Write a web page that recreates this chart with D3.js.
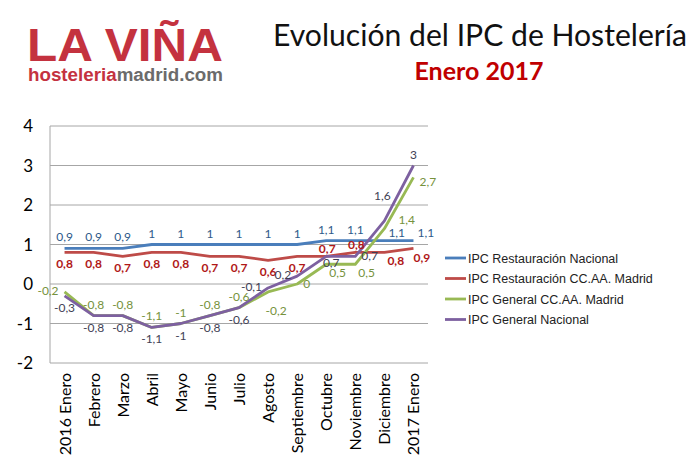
<!DOCTYPE html>
<html>
<head>
<meta charset="utf-8">
<script src="https://cdn.jsdelivr.net/npm/d3@7"></script>
<style>
  body { margin: 0; background: #fff; }
  svg { display: block; }
</style>
</head>
<body>
<svg id="chart" width="700" height="473"></svg>
<script>
// months on the x axis
const months = ['2016 Enero', 'Febrero', 'Marzo', 'Abril', 'Mayo', 'Junio', 'Julio',
  'Agosto', 'Septiembre', 'Octubre', 'Noviembre', 'Diciembre', '2017 Enero'];
const yTicks = [-2, -1, 0, 1, 2, 3, 4];

const seriesNames = ['IPC Restauración Nacional', 'IPC Restauración CC.AA. Madrid',
  'IPC General CC.AA. Madrid', 'IPC General Nacional'];

const restNacional = [0.9, 0.9, 0.9, 1, 1, 1, 1, 1, 1, 1.1, 1.1, 1.1, 1.1];
const restMadrid = [0.8, 0.8, 0.7, 0.8, 0.8, 0.7, 0.7, 0.6, 0.7, 0.7, 0.8, 0.8, 0.9];
const generalMadrid = [-0.2, -0.8, -0.8, -1.1, -1, -0.8, -0.6, -0.2, 0, 0.5, 0.5, 1.4, 2.7];
const generalNacional = [-0.3, -0.8, -0.8, -1.1, -1, -0.8, -0.6, -0.1, 0.2, 0.7, 0.7, 1.6, 3];

// where each value label sits relative to its point
const placeRestNacional = ['a', 'a', 'a', 'a', 'a', 'a', 'a', 'a', 'a', 'a', 'a', 'ar', 'ar'];
const placeRestMadrid = ['b', 'b', 'b', 'b', 'b', 'b', 'b', 'b', 'b', 'as', 'as', 'br', 'bd'];
const placeGenMadrid = ['l', 'a', 'a', 'a', 'a', 'a', 'a', 'bb', 'r', 'br', 'br', 'fr', 'rb'];
const placeGenNacional = ['b', 'b', 'b', 'b', 'b', 'b', 'b', 'l', 'l', 'bs', 'r', 'aa', 'a'];

const lineColors = ['#4A7EBB', '#BE4B48', '#98B954', '#7D60A0'];
const labelColors = ['#2E5A8A', '#B01818', '#76923C', '#3F3F55'];

const series = [
  { name: seriesNames[0], values: restNacional, place: placeRestNacional },
  { name: seriesNames[1], values: restMadrid, place: placeRestMadrid },
  { name: seriesNames[2], values: generalMadrid, place: placeGenMadrid },
  { name: seriesNames[3], values: generalNacional, place: placeGenNacional },
];

const svg = d3.select('#chart');
const plot = { left: 50, right: 428, top: 126, bottom: 363 };

const x = d3.scaleBand().domain(months).range([plot.left, plot.right]);
const y = d3.scaleLinear().domain([-2, 4]).range([plot.bottom, plot.top]);
const cx = (m) => x(m) + x.bandwidth() / 2;

// header
const logo = svg.append('g');
logo.append('text')
  .attr('x', 27).attr('y', 61)
  .attr('font-family', 'Liberation Sans, Arial, sans-serif')
  .attr('font-weight', 'bold').attr('font-size', 46)
  .attr('fill', '#C4323F')
  .attr('textLength', 196).attr('lengthAdjust', 'spacingAndGlyphs')
  .text('LA VIÑA');
const sub = logo.append('text')
  .attr('x', 28).attr('y', 81)
  .attr('font-family', 'Liberation Sans, Arial, sans-serif')
  .attr('font-weight', 'bold').attr('font-size', 17.5)
  .attr('textLength', 195).attr('lengthAdjust', 'spacingAndGlyphs');
sub.append('tspan').attr('fill', '#C4323F').text('hosteleria');
sub.append('tspan').attr('fill', '#6B6B6B').text('madrid.com');

svg.append('text')
  .attr('x', 480).attr('y', 46)
  .attr('text-anchor', 'middle')
  .attr('font-family', 'Lato, sans-serif')
  .attr('font-size', 31).attr('fill', '#111')
  .attr('textLength', 414).attr('lengthAdjust', 'spacingAndGlyphs')
  .text('Evolución del IPC de Hostelería');
svg.append('text')
  .attr('x', 479).attr('y', 80)
  .attr('text-anchor', 'middle')
  .attr('font-family', 'Lato, sans-serif')
  .attr('font-weight', 'bold')
  .attr('font-size', 25).attr('fill', '#C00000')
  .text('Enero 2017');

// gridlines
svg.append('g')
  .selectAll('line')
  .data(yTicks)
  .join('line')
  .attr('x1', plot.left).attr('x2', plot.right)
  .attr('y1', (d) => y(d)).attr('y2', (d) => y(d))
  .attr('stroke', '#A6A6A6').attr('stroke-width', 1);

svg.append('line')
  .attr('x1', plot.left).attr('x2', plot.left)
  .attr('y1', plot.top).attr('y2', plot.bottom)
  .attr('stroke', '#A6A6A6');

// y labels
svg.append('g')
  .selectAll('text')
  .data(yTicks)
  .join('text')
  .attr('x', 33).attr('y', (d) => y(d) + 6)
  .attr('text-anchor', 'end')
  .attr('font-family', 'Lato, sans-serif')
  .attr('font-size', 17).attr('fill', '#000')
  .text((d) => d);

// x labels (rotated)
svg.append('g')
  .selectAll('text')
  .data(months)
  .join('text')
  .attr('transform', (d) => `translate(${cx(d) + 6}, 373) rotate(-90)`)
  .attr('text-anchor', 'end')
  .attr('font-family', 'Lato, sans-serif')
  .attr('font-size', 16).attr('fill', '#000')
  .text((d) => d);

// lines
const line = d3.line()
  .x((d, i) => cx(months[i]))
  .y((d) => y(d));

svg.append('g')
  .selectAll('path')
  .data(series)
  .join('path')
  .attr('d', (s) => line(s.values))
  .attr('fill', 'none')
  .attr('stroke', (s, i) => lineColors[i])
  .attr('stroke-width', 2.8)
  .attr('stroke-linejoin', 'round');

// value labels: [dx, dy, anchor]
const offsets = {
  a: [0, -7, 'middle'],
  as: [1, -3, 'middle'],
  aa: [-2, -21, 'middle'],
  b: [0, 16, 'middle'],
  bs: [5, 11, 'middle'],
  bb: [8, 23, 'middle'],
  bd: [0, 14, 'start'],
  l: [-6, 3, 'end'],
  r: [6, 4, 'start'],
  ar: [4, -4, 'start'],
  fr: [14, -5, 'start'],
  rb: [6, 9, 'start'],
  br: [3, 13, 'start'],
};
const fmt = (v) => String(v).replace('.', ',');

series.forEach((s, si) => {
  svg.append('g')
    .selectAll('text')
    .data(s.values)
    .join('text')
    .attr('x', (d, i) => cx(months[i]) + offsets[s.place[i]][0])
    .attr('y', (d, i) => y(d) + offsets[s.place[i]][1])
    .attr('text-anchor', (d, i) => offsets[s.place[i]][2])
    .attr('font-family', 'Lato, sans-serif')
    .attr('font-size', 12)
    .attr('font-weight', si === 1 ? 'bold' : 'normal')
    .attr('fill', labelColors[si])
    .text(fmt);
});

// legend
const legend = svg.append('g')
  .selectAll('g')
  .data(series)
  .join('g')
  .attr('transform', (d, i) => `translate(445, ${258 + i * 20.5})`);
legend.append('line')
  .attr('x1', 0).attr('x2', 21)
  .attr('stroke', (d, i) => lineColors[i])
  .attr('stroke-width', 2.8);
legend.append('text')
  .attr('x', 23).attr('y', 4.5)
  .attr('font-family', 'Liberation Sans, Arial, sans-serif')
  .attr('font-size', 12.5).attr('fill', '#222')
  .text((d) => d.name);
</script>
</body>
</html>
